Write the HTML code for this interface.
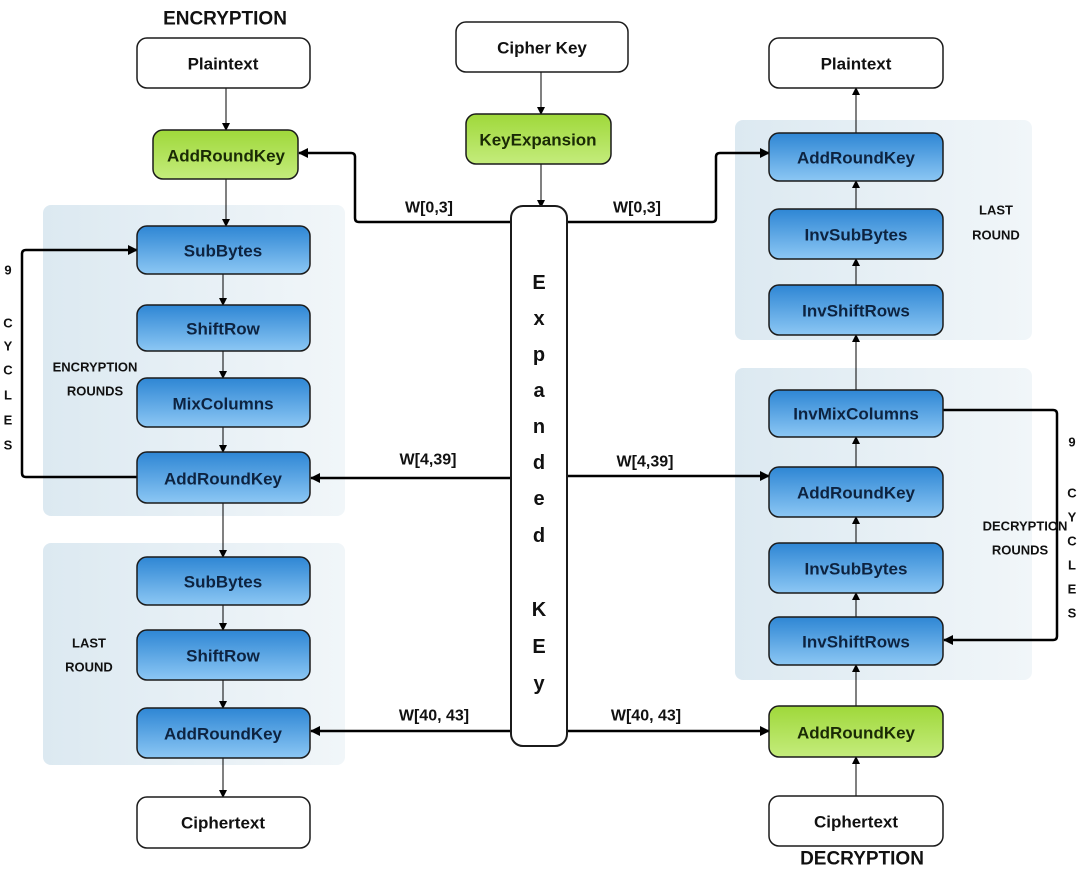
<!DOCTYPE html>
<html><head><meta charset="utf-8"><style>
html,body{margin:0;padding:0;background:#fff;}
svg{display:block;font-family:"Liberation Sans",sans-serif;}
.t{font-weight:bold;font-size:17px;text-anchor:middle;dominant-baseline:central;}
.s{font-weight:bold;font-size:13px;text-anchor:middle;dominant-baseline:central;fill:#111;}
</style></head><body>
<svg width="1086" height="880" viewBox="0 0 1086 880" xmlns="http://www.w3.org/2000/svg">
<defs>
<linearGradient id="bl" x1="0" y1="0" x2="0" y2="1"><stop offset="0" stop-color="#2e86d4"/><stop offset="1" stop-color="#8cc7f4"/></linearGradient>
<linearGradient id="gr" x1="0" y1="0" x2="0" y2="1"><stop offset="0" stop-color="#9fd83a"/><stop offset="1" stop-color="#c4ec7c"/></linearGradient>
<linearGradient id="rg" x1="0" y1="0" x2="1" y2="0"><stop offset="0" stop-color="#dce9f1"/><stop offset="1" stop-color="#f1f6f9"/></linearGradient>
<marker id="a" markerWidth="10" markerHeight="10" refX="9" refY="5" orient="auto" markerUnits="userSpaceOnUse"><path d="M0,0 L10,5 L0,10 z" fill="#000"/></marker>
<marker id="as" markerWidth="8" markerHeight="8" refX="7" refY="4" orient="auto" markerUnits="userSpaceOnUse"><path d="M0,0 L8,4 L0,8 z" fill="#000"/></marker>
</defs>
<!-- regions -->
<rect x="43" y="205" width="302" height="311" rx="8" fill="url(#rg)"/>
<rect x="43" y="543" width="302" height="222" rx="8" fill="url(#rg)"/>
<rect x="735" y="120" width="297" height="220" rx="8" fill="url(#rg)"/>
<rect x="735" y="368" width="297" height="312" rx="8" fill="url(#rg)"/>

<g stroke="#000" fill="none">
<!-- encryption thin arrows -->
<line x1="226" y1="88" x2="226" y2="130" stroke-width="1" marker-end="url(#as)"/>
<line x1="226" y1="179" x2="226" y2="226" stroke-width="1" marker-end="url(#as)"/>
<line x1="223" y1="274" x2="223" y2="305" stroke-width="1" marker-end="url(#as)"/>
<line x1="223" y1="351" x2="223" y2="378" stroke-width="1" marker-end="url(#as)"/>
<line x1="223" y1="427" x2="223" y2="452" stroke-width="1" marker-end="url(#as)"/>
<line x1="223" y1="503" x2="223" y2="557" stroke-width="1" marker-end="url(#as)"/>
<line x1="223" y1="605" x2="223" y2="630" stroke-width="1" marker-end="url(#as)"/>
<line x1="223" y1="680" x2="223" y2="708" stroke-width="1" marker-end="url(#as)"/>
<line x1="223" y1="758" x2="223" y2="797" stroke-width="1" marker-end="url(#as)"/>
<!-- middle -->
<line x1="541" y1="72" x2="541" y2="114" stroke-width="1" marker-end="url(#as)"/>
<line x1="541" y1="164" x2="541" y2="207" stroke-width="1" marker-end="url(#as)"/>
<!-- decryption thin arrows (upward) -->
<line x1="856" y1="796" x2="856" y2="757" stroke-width="1" marker-end="url(#as)"/>
<line x1="856" y1="706" x2="856" y2="665" stroke-width="1" marker-end="url(#as)"/>
<line x1="856" y1="617" x2="856" y2="593" stroke-width="1" marker-end="url(#as)"/>
<line x1="856" y1="543" x2="856" y2="517" stroke-width="1" marker-end="url(#as)"/>
<line x1="856" y1="467" x2="856" y2="437" stroke-width="1" marker-end="url(#as)"/>
<line x1="856" y1="390" x2="856" y2="335" stroke-width="1"/>
<line x1="856" y1="360" x2="856" y2="335" stroke-width="1" marker-end="url(#as)"/>
<line x1="856" y1="285" x2="856" y2="259" stroke-width="1" marker-end="url(#as)"/>
<line x1="856" y1="209" x2="856" y2="181" stroke-width="1" marker-end="url(#as)"/>
<line x1="856" y1="133" x2="856" y2="88" stroke-width="1" marker-end="url(#as)"/>
<!-- thick connectors -->
<path d="M511,222 H359 Q355,222 355,218 V157 Q355,153 351,153 H299" stroke-width="2.5" marker-end="url(#a)"/>
<path d="M567,222 H712 Q716,222 716,218 V157 Q716,153 720,153 H769" stroke-width="2.5" marker-end="url(#a)"/>
<path d="M511,478 H311" stroke-width="2.5" marker-end="url(#a)"/>
<path d="M567,476 H769" stroke-width="2.5" marker-end="url(#a)"/>
<path d="M511,731 H311" stroke-width="2.5" marker-end="url(#a)"/>
<path d="M567,731 H769" stroke-width="2.5" marker-end="url(#a)"/>
<path d="M137,477 H26 Q22,477 22,473 V254 Q22,250 26,250 H137" stroke-width="2.5" marker-end="url(#a)"/>
<path d="M943,410 H1053 Q1057,410 1057,414 V636 Q1057,640 1053,640 H944" stroke-width="2.5" marker-end="url(#a)"/>
</g>

<!-- boxes -->
<g stroke="#1b1b1b" stroke-width="1.5">
<rect x="137" y="38" width="173" height="50" rx="10" fill="#fff"/>
<rect x="153" y="130" width="145" height="49" rx="10" fill="url(#gr)"/>
<rect x="137" y="226" width="173" height="48" rx="10" fill="url(#bl)"/>
<rect x="137" y="305" width="173" height="46" rx="10" fill="url(#bl)"/>
<rect x="137" y="378" width="173" height="49" rx="10" fill="url(#bl)"/>
<rect x="137" y="452" width="173" height="51" rx="10" fill="url(#bl)"/>
<rect x="137" y="557" width="173" height="48" rx="10" fill="url(#bl)"/>
<rect x="137" y="630" width="173" height="50" rx="10" fill="url(#bl)"/>
<rect x="137" y="708" width="173" height="50" rx="10" fill="url(#bl)"/>
<rect x="137" y="797" width="173" height="51" rx="10" fill="#fff"/>

<rect x="456" y="22" width="172" height="50" rx="10" fill="#fff"/>
<rect x="466" y="114" width="145" height="50" rx="10" fill="url(#gr)"/>
<rect x="511" y="206" width="56" height="540" rx="12" fill="#fff" stroke-width="2"/>

<rect x="769" y="38" width="174" height="50" rx="10" fill="#fff"/>
<rect x="769" y="133" width="174" height="48" rx="10" fill="url(#bl)"/>
<rect x="769" y="209" width="174" height="50" rx="10" fill="url(#bl)"/>
<rect x="769" y="285" width="174" height="50" rx="10" fill="url(#bl)"/>
<rect x="769" y="390" width="174" height="47" rx="10" fill="url(#bl)"/>
<rect x="769" y="467" width="174" height="50" rx="10" fill="url(#bl)"/>
<rect x="769" y="543" width="174" height="50" rx="10" fill="url(#bl)"/>
<rect x="769" y="617" width="174" height="48" rx="10" fill="url(#bl)"/>
<rect x="769" y="706" width="174" height="51" rx="10" fill="url(#gr)"/>
<rect x="769" y="796" width="174" height="50" rx="10" fill="#fff"/>
</g>

<!-- box text -->
<g class="t">
<text class="t" x="223" y="64" fill="#111">Plaintext</text>
<text class="t" x="226" y="156" fill="#1a2a05">AddRoundKey</text>
<text class="t" x="223" y="251" fill="#0d2340">SubBytes</text>
<text class="t" x="223" y="329" fill="#0d2340">ShiftRow</text>
<text class="t" x="223" y="404" fill="#0d2340">MixColumns</text>
<text class="t" x="223" y="479" fill="#0d2340">AddRoundKey</text>
<text class="t" x="223" y="582" fill="#0d2340">SubBytes</text>
<text class="t" x="223" y="656" fill="#0d2340">ShiftRow</text>
<text class="t" x="223" y="734" fill="#0d2340">AddRoundKey</text>
<text class="t" x="223" y="823" fill="#111">Ciphertext</text>
<text class="t" x="542" y="48" fill="#111">Cipher Key</text>
<text class="t" x="538" y="140" fill="#1a2a05">KeyExpansion</text>
<text class="t" x="856" y="64" fill="#111">Plaintext</text>
<text class="t" x="856" y="158" fill="#0d2340">AddRoundKey</text>
<text class="t" x="856" y="235" fill="#0d2340">InvSubBytes</text>
<text class="t" x="856" y="311" fill="#0d2340">InvShiftRows</text>
<text class="t" x="856" y="414" fill="#0d2340">InvMixColumns</text>
<text class="t" x="856" y="493" fill="#0d2340">AddRoundKey</text>
<text class="t" x="856" y="569" fill="#0d2340">InvSubBytes</text>
<text class="t" x="856" y="642" fill="#0d2340">InvShiftRows</text>
<text class="t" x="856" y="733" fill="#1a2a05">AddRoundKey</text>
<text class="t" x="856" y="822" fill="#111">Ciphertext</text>
</g>

<!-- expanded key letters -->
<g class="t" fill="#111" style="font-size:20px">
<text class="t" x="539" y="283" style="font-size:20px">E</text>
<text class="t" x="539" y="319" style="font-size:20px">x</text>
<text class="t" x="539" y="355" style="font-size:20px">p</text>
<text class="t" x="539" y="391" style="font-size:20px">a</text>
<text class="t" x="539" y="427" style="font-size:20px">n</text>
<text class="t" x="539" y="463" style="font-size:20px">d</text>
<text class="t" x="539" y="499" style="font-size:20px">e</text>
<text class="t" x="539" y="536" style="font-size:20px">d</text>
<text class="t" x="539" y="610" style="font-size:20px">K</text>
<text class="t" x="539" y="647" style="font-size:20px">E</text>
<text class="t" x="539" y="684" style="font-size:20px">y</text>
</g>

<!-- labels -->
<text class="t" x="225" y="19" fill="#111" style="font-size:19px">ENCRYPTION</text>
<text class="t" x="862" y="859" fill="#111" style="font-size:19px">DECRYPTION</text>
<text class="t" x="429" y="208" fill="#111" style="font-size:16px">W[0,3]</text>
<text class="t" x="637" y="208" fill="#111" style="font-size:16px">W[0,3]</text>
<text class="t" x="428" y="460" fill="#111" style="font-size:16px">W[4,39]</text>
<text class="t" x="645" y="462" fill="#111" style="font-size:16px">W[4,39]</text>
<text class="t" x="434" y="716" fill="#111" style="font-size:16px">W[40, 43]</text>
<text class="t" x="646" y="716" fill="#111" style="font-size:16px">W[40, 43]</text>

<text class="s" x="95" y="367">ENCRYPTION</text>
<text class="s" x="95" y="391">ROUNDS</text>
<text class="s" x="89" y="643">LAST</text>
<text class="s" x="89" y="667">ROUND</text>
<text class="s" x="996" y="210">LAST</text>
<text class="s" x="996" y="235">ROUND</text>
<text class="s" x="1025" y="526">DECRYPTION</text>
<text class="s" x="1020" y="550">ROUNDS</text>

<g class="s">
<text class="s" x="8" y="270">9</text>
<text class="s" x="8" y="323">C</text>
<text class="s" x="8" y="346">Y</text>
<text class="s" x="8" y="370">C</text>
<text class="s" x="8" y="395">L</text>
<text class="s" x="8" y="420">E</text>
<text class="s" x="8" y="445">S</text>
<text class="s" x="1072" y="442">9</text>
<text class="s" x="1072" y="493">C</text>
<text class="s" x="1072" y="517">Y</text>
<text class="s" x="1072" y="541">C</text>
<text class="s" x="1072" y="565">L</text>
<text class="s" x="1072" y="589">E</text>
<text class="s" x="1072" y="613">S</text>
</g>
</svg>
</body></html>
